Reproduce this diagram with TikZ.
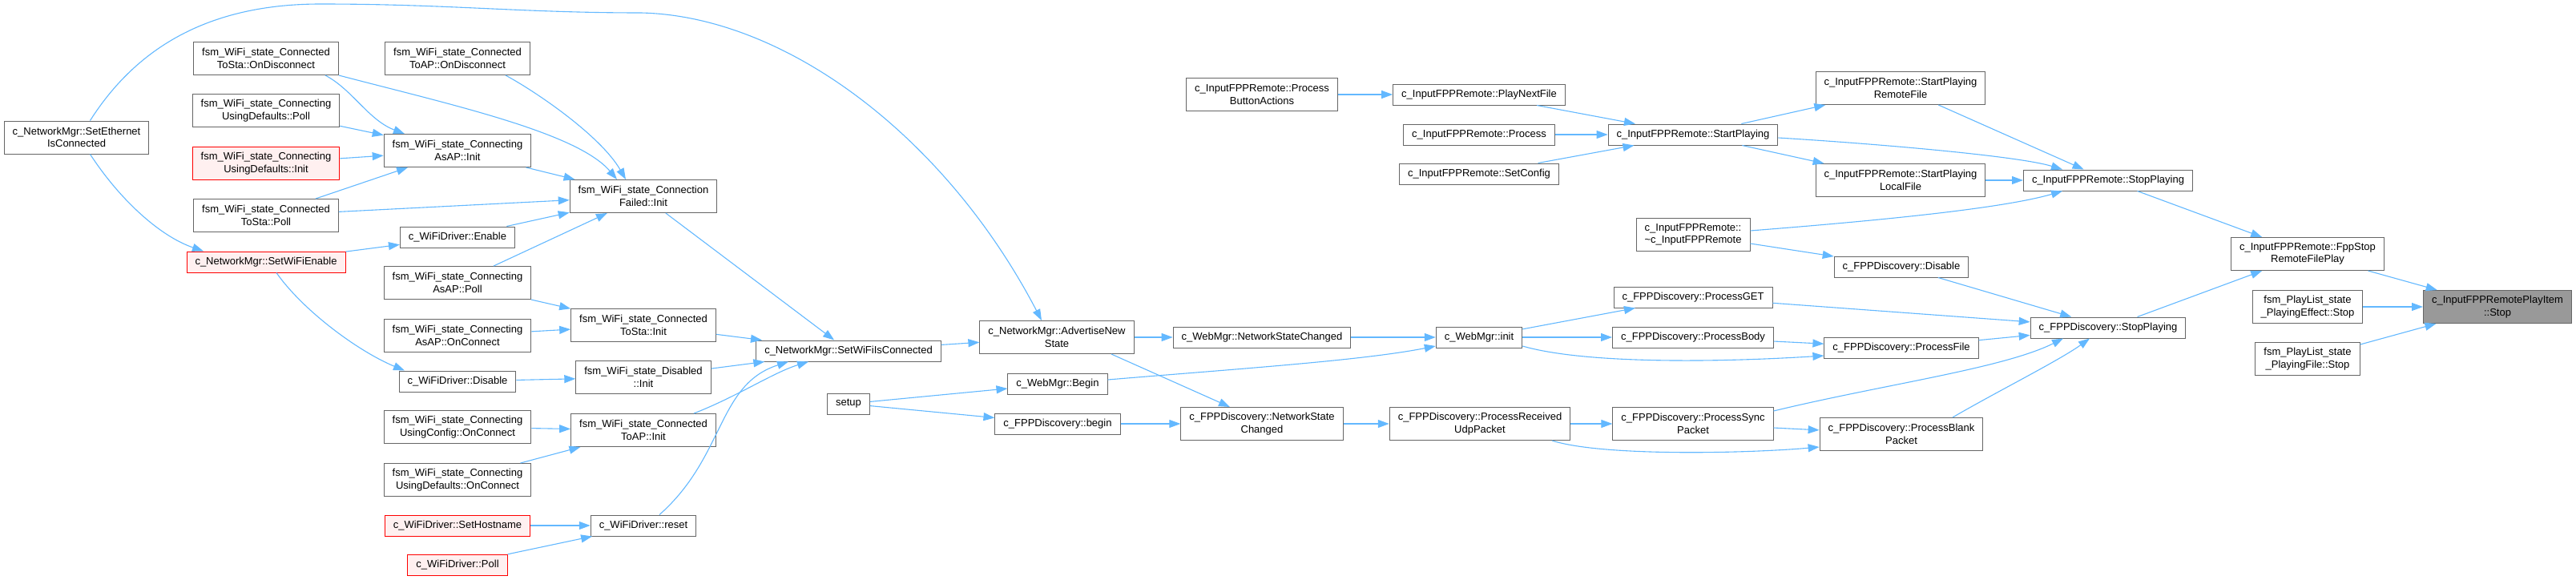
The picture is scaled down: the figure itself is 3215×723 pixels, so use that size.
\documentclass[tikz,border=0pt]{standalone}
\usepackage{fontspec}
\setmainfont{Liberation Sans}
\usepackage{tikz}
\usetikzlibrary{arrows.meta}

\definecolor{edgeblue}{HTML}{63B8FF}
\definecolor{boxline}{HTML}{666666}
\definecolor{hotline}{HTML}{FF0000}
\definecolor{hotfill}{HTML}{FFF0F0}
\definecolor{rootfill}{HTML}{999999}

\begin{document}
\begin{tikzpicture}[
    x=1pt, y=-1pt,
    % Style for the function boxes
    func/.style = {rectangle, draw=boxline, fill=white, line width=1pt, align=center,
                   inner xsep=10.5pt, inner ysep=6pt, minimum height=26pt,
                   font=\fontsize{13}{15.5}\selectfont},
    tall/.style = {minimum height=41pt},
    % red boxes and the grey root box
    hot/.style = {draw=hotline, fill=hotfill},
    root/.style = {fill=rootfill},
    % Style for the call arrows
    callarrow/.style = {-{Triangle[length=14pt,width=10pt]}, edgeblue, line width=1.1pt}
]
    \useasboundingbox (0,0) rectangle (3215,723);

    % --- WIFI STATE MACHINE (left columns) ---
    \node[func, tall] (SetEth) at (95.5,171.5) {c\_NetworkMgr::SetEthernet\\IsConnected};

    \node[func, tall] (ToStaDisc) at (332,73) {fsm\_WiFi\_state\_Connected\\ToSta::OnDisconnect};
    \node[func, tall] (UDPoll) at (332,138) {fsm\_WiFi\_state\_Connecting\\UsingDefaults::Poll};
    \node[func, tall, hot] (UDInit) at (332,204) {fsm\_WiFi\_state\_Connecting\\UsingDefaults::Init};
    \node[func, tall] (ToStaPoll) at (332,269) {fsm\_WiFi\_state\_Connected\\ToSta::Poll};
    \node[func, hot] (SetWiFiEn) at (332,327) {c\_NetworkMgr::SetWiFiEnable};

    \node[func, tall] (ToAPDisc) at (571,73) {fsm\_WiFi\_state\_Connected\\ToAP::OnDisconnect};
    \node[func, tall] (AsAPInit) at (571,188) {fsm\_WiFi\_state\_Connecting\\AsAP::Init};
    \node[func] (WDEnable) at (571,296) {c\_WiFiDriver::Enable};
    \node[func, tall] (AsAPPoll) at (571,353) {fsm\_WiFi\_state\_Connecting\\AsAP::Poll};
    \node[func, tall] (AsAPConn) at (571,419) {fsm\_WiFi\_state\_Connecting\\AsAP::OnConnect};
    \node[func] (WDDisable) at (571,476) {c\_WiFiDriver::Disable};
    \node[func, tall] (UCConn) at (571,533) {fsm\_WiFi\_state\_Connecting\\UsingConfig::OnConnect};
    \node[func, tall] (UDConn) at (571,599) {fsm\_WiFi\_state\_Connecting\\UsingDefaults::OnConnect};
    \node[func, hot] (SetHost) at (571,656) {c\_WiFiDriver::SetHostname};
    \node[func, hot] (WDPoll) at (571,705) {c\_WiFiDriver::Poll};

    \node[func, tall] (ConnFailed) at (803,245) {fsm\_WiFi\_state\_Connection\\Failed::Init};
    \node[func, tall] (ToStaInit) at (803,406) {fsm\_WiFi\_state\_Connected\\ToSta::Init};
    \node[func, tall] (DisInit) at (803,471) {fsm\_WiFi\_state\_Disabled\\::Init};
    \node[func, tall] (ToAPInit) at (803,537) {fsm\_WiFi\_state\_Connected\\ToAP::Init};
    \node[func] (WDReset) at (803,656) {c\_WiFiDriver::reset};

    % --- NETWORK / WEB MANAGER ---
    \node[func] (SetWiFiConn) at (1059,438) {c\_NetworkMgr::SetWiFiIsConnected};
    \node[func] (setup) at (1059,504) {setup};

    \node[func, tall] (AdvState) at (1319,421) {c\_NetworkMgr::AdvertiseNew\\State};
    \node[func] (WebBegin) at (1320,479) {c\_WebMgr::Begin};
    \node[func] (DiscBegin) at (1320,529) {c\_FPPDiscovery::begin};

    \node[func, tall] (BtnAct) at (1575,118) {c\_InputFPPRemote::Process\\ButtonActions};
    \node[func] (WebNetChg) at (1575,421) {c\_WebMgr::NetworkStateChanged};
    \node[func, tall] (DiscNetChg) at (1575,529) {c\_FPPDiscovery::NetworkState\\Changed};

    % --- FPP REMOTE / DISCOVERY ---
    \node[func] (PlayNext) at (1846,118) {c\_InputFPPRemote::PlayNextFile};
    \node[func] (RemProcess) at (1846,168) {c\_InputFPPRemote::Process};
    \node[func] (SetConfig) at (1846,217) {c\_InputFPPRemote::SetConfig};
    \node[func] (WebInit) at (1846,421) {c\_WebMgr::init};
    \node[func, tall] (RecvUdp) at (1847,529) {c\_FPPDiscovery::ProcessReceived\\UdpPacket};

    \node[func] (StartPlay) at (2113,168) {c\_InputFPPRemote::StartPlaying};
    \node[func, tall] (RemDtor) at (2113,293) {c\_InputFPPRemote::\\\textasciitilde c\_InputFPPRemote};
    \node[func] (ProcGet) at (2113,371) {c\_FPPDiscovery::ProcessGET};
    \node[func] (ProcBody) at (2113,421) {c\_FPPDiscovery::ProcessBody};
    \node[func, tall] (ProcSync) at (2113,529) {c\_FPPDiscovery::ProcessSync\\Packet};

    \node[func, tall] (StartRemote) at (2372,110) {c\_InputFPPRemote::StartPlaying\\RemoteFile};
    \node[func, tall] (StartLocal) at (2372,225) {c\_InputFPPRemote::StartPlaying\\LocalFile};
    \node[func] (DiscDisable) at (2373,333) {c\_FPPDiscovery::Disable};
    \node[func] (ProcFile) at (2373,434) {c\_FPPDiscovery::ProcessFile};
    \node[func, tall] (ProcBlank) at (2373,542) {c\_FPPDiscovery::ProcessBlank\\Packet};

    \node[func] (RemStop) at (2631,225) {c\_InputFPPRemote::StopPlaying};
    \node[func] (DiscStop) at (2631,409) {c\_FPPDiscovery::StopPlaying};

    \node[func, tall] (FppStop) at (2880,317) {c\_InputFPPRemote::FppStop\\RemoteFilePlay};
    \node[func, tall] (PLEffect) at (2880,383) {fsm\_PlayList\_state\\\_PlayingEffect::Stop};
    \node[func, tall] (PLFile) at (2880,448) {fsm\_PlayList\_state\\\_PlayingFile::Stop};

    \node[func, tall, root] (ItemStop) at (3117,383) {c\_InputFPPRemotePlayItem\\::Stop};

    % --- STRAIGHT CALLS ---
    \foreach \a/\b in {UDPoll/AsAPInit, UDInit/AsAPInit, ToStaPoll/AsAPInit, ToStaPoll/ConnFailed,
                       AsAPInit/ConnFailed, WDEnable/ConnFailed, AsAPPoll/ConnFailed, SetWiFiEn/WDEnable,
                       AsAPPoll/ToStaInit, AsAPConn/ToStaInit, WDDisable/DisInit, UCConn/ToAPInit,
                       UDConn/ToAPInit, SetHost/WDReset, WDPoll/WDReset, ConnFailed/SetWiFiConn,
                       ToStaInit/SetWiFiConn, DisInit/SetWiFiConn, SetWiFiConn/AdvState, AdvState/WebNetChg,
                       setup/WebBegin, setup/DiscBegin, DiscBegin/DiscNetChg, BtnAct/PlayNext,
                       PlayNext/StartPlay, RemProcess/StartPlay, SetConfig/StartPlay, StartPlay/StartRemote,
                       StartPlay/StartLocal, RemDtor/DiscDisable, WebNetChg/WebInit, WebInit/ProcGet,
                       WebInit/ProcBody, ProcBody/ProcFile, ProcGet/DiscStop, DiscNetChg/RecvUdp,
                       RecvUdp/ProcSync, ProcSync/ProcBlank, StartRemote/RemStop, StartLocal/RemStop,
                       RemStop/FppStop, DiscDisable/DiscStop, ProcFile/DiscStop, DiscStop/FppStop,
                       FppStop/ItemStop, PLEffect/ItemStop, PLFile/ItemStop} {
        \draw[callarrow] (\a) -- (\b);
    }
    \draw[callarrow] ([xshift=68pt]AdvState.south) -- ([xshift=-40pt]DiscNetChg.north);

    % --- CURVED CALLS ---
    \draw[callarrow] ([xshift=17pt]SetEth.north) .. controls (170,60) and (260,5) .. (400,5)
        .. controls (560,5) and (650,16) .. (800,16)
        .. controls (980,20) and (1180,170) .. ([xshift=-19pt]AdvState.north);
    \draw[callarrow] ([xshift=17pt]SetEth.south) .. controls (150,250) and (200,295) .. ([xshift=-78pt]SetWiFiEn.north);
    \draw[callarrow] ([xshift=74pt]ToStaDisc.south) .. controls (440,112) and (460,150) .. ([xshift=-66pt]AsAPInit.north);
    \draw[callarrow] (ToStaDisc.south east) .. controls (560,130) and (720,165) .. ([xshift=-33pt]ConnFailed.north);
    \draw[callarrow] ([xshift=60pt]ToAPDisc.south) .. controls (670,115) and (750,170) .. ([xshift=-22pt]ConnFailed.north);
    \draw[callarrow] ([xshift=13pt]SetWiFiEn.south) .. controls (380,390) and (450,440) .. ([xshift=-66pt]WDDisable.north);
    \draw[callarrow] ([xshift=63pt]ToAPInit.north) .. controls (920,495) and (965,465) .. ([xshift=-50pt]SetWiFiConn.south);
    \draw[callarrow] ([xshift=20pt]WDReset.north) .. controls (905,570) and (895,480) .. ([xshift=-75pt]SetWiFiConn.south);
    \draw[callarrow] ([yshift=5pt]WebBegin.east) .. controls (1550,460) and (1700,450) .. ([yshift=-11pt]WebInit.west);
    \draw[callarrow] ([yshift=-4pt]StartPlay.east) .. controls (2350,180) and (2520,195) .. ([xshift=-57pt]RemStop.north);
    \draw[callarrow] ([yshift=5pt]RemDtor.east) .. controls (2350,275) and (2500,260) .. ([xshift=-57pt]RemStop.south);
    \draw[callarrow] ([yshift=-11pt]WebInit.east) .. controls (1980,455) and (2150,452) .. ([yshift=-10pt]ProcFile.west);
    \draw[callarrow] ([xshift=90pt]RecvUdp.south) .. controls (2000,570) and (2180,566) .. ([yshift=-16pt]ProcBlank.west);
    \draw[callarrow] ([yshift=16pt]ProcSync.east) .. controls (2350,480) and (2500,460) .. ([xshift=-56pt]DiscStop.south);
    \draw[callarrow] ([xshift=64pt]ProcBlank.north) .. controls (2490,490) and (2570,450) .. ([xshift=-23pt]DiscStop.south);

\end{tikzpicture}
\end{document}
